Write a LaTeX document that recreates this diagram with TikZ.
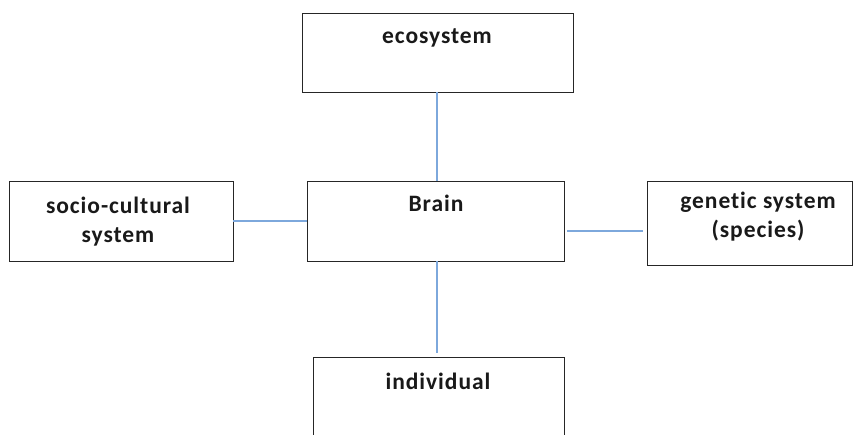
\documentclass[tikz,border=0pt]{standalone}
\usepackage{fontspec}
\setmainfont[Ligatures=NoCommon,LetterSpace=4]{Carlito}
\definecolor{linkblue}{RGB}{125,168,220}
\begin{document}
\begin{tikzpicture}[x=1pt,y=-1pt,
  box/.style={draw=black!85,line width=0.9pt,fill=white,inner sep=0pt},
  lbl/.style={font=\bfseries\fontsize{23.5}{29}\selectfont,align=center,text=black!90,inner sep=0pt,anchor=base},
  link/.style={draw=linkblue,line width=1.2pt}]
\useasboundingbox[fill=white] (0,0) rectangle (854,434);
\node[box,minimum width=271,minimum height=79] (eco) at (437.5,52.5) {};
\node[box,minimum width=257,minimum height=80] (brain) at (435.5,221) {};
\node[box,minimum width=224,minimum height=80] (soc) at (121,221) {};
\node[box,minimum width=205,minimum height=84] (gen) at (749.5,223) {};
\node[box,minimum width=251,minimum height=100] (ind) at (438.5,407) {};
\node[lbl] (t1) at (437,43) {ecosystem};
\node[lbl] (t2) at (436,211) {Brain};
\node[lbl] (t3) at (118,242) {socio-cultural\\system};
\node[lbl] (t4) at (758,237) {genetic system\\(species)};
\node[lbl] (t5) at (438,389) {individual};
\coordinate (re) at ([yshift=-10pt]brain.east);
\coordinate (tp) at (437,0);
\draw[link] (eco.south -| tp) -- (brain.north -| tp);
\draw[link] (soc.east) -- (brain.west);
\draw[link,shorten <=3pt,shorten >=4pt] (re) -- (gen.west |- re);
\draw[link,shorten >=4pt] (brain.south -| tp) -- (ind.north -| tp);
\end{tikzpicture}
\end{document}
